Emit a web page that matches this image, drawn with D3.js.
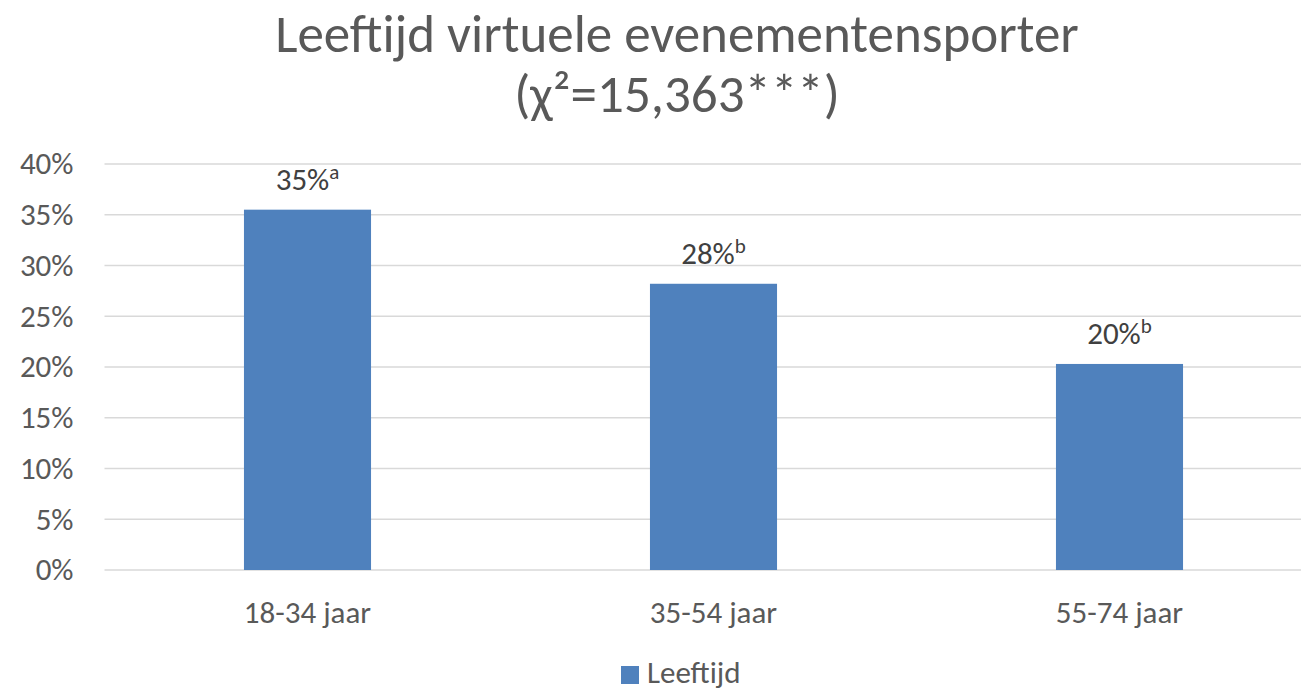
<!DOCTYPE html>
<html>
<head>
<meta charset="utf-8">
<script src="https://cdn.jsdelivr.net/npm/d3@7"></script>
<style>
  body { margin: 0; background: #fff; }
  text { font-family: Carlito, "Open Sans", "Noto Sans", sans-serif; }
</style>
</head>
<body>
<div id="chart"></div>
<script>
// chart data
var categories = ["18-34 jaar", "35-54 jaar", "55-74 jaar"];
var values = [0.355, 0.282, 0.203];
var valueLabels = ["35%", "28%", "20%"];
var sigLetters = ["a", "b", "b"];
var yTicks = [0, 0.05, 0.10, 0.15, 0.20, 0.25, 0.30, 0.35, 0.40];
var seriesName = "Leeftijd";
var titleLines = ["Leeftijd virtuele evenementensporter", "(χ²=15,363***)"];

var W = 1301, H = 690;
var margin = {top: 164, left: 104.5, bottom: 120};
var plotRight = 1322.5;   // the plot runs past the picture edge

var svg = d3.select("#chart").append("svg")
    .attr("width", W)
    .attr("height", H);

var x = d3.scaleBand()
    .domain(categories)
    .range([margin.left, plotRight])
    .paddingInner(0.687)
    .paddingOuter(0.687 / 2);

var y = d3.scaleLinear()
    .domain([0, 0.40])
    .range([570, margin.top]);

// gridlines
svg.append("g")
    .selectAll("line")
    .data(yTicks)
    .enter().append("line")
    .attr("x1", margin.left)
    .attr("x2", plotRight)
    .attr("y1", function(d) { return y(d); })
    .attr("y2", function(d) { return y(d); })
    .attr("stroke", "#d9d9d9")
    .attr("stroke-width", 1.5);

// y axis labels
var yAxis = svg.append("g")
    .attr("class", "y-axis")
    .attr("transform", "translate(" + margin.left + ",0)")
    .call(d3.axisLeft(y).tickValues(yTicks).tickFormat(d3.format(".0%")).tickSize(0).tickPadding(31));
yAxis.select(".domain").remove();
yAxis.selectAll("text")
    .attr("fill", "#595959")
    .style("font-size", "31px");

// bars
svg.append("g")
    .selectAll("rect")
    .data(values)
    .enter().append("rect")
    .attr("x", function(d, i) { return x(categories[i]); })
    .attr("y", function(d) { return y(d); })
    .attr("width", x.bandwidth())
    .attr("height", function(d) { return y(0) - y(d); })
    .attr("fill", "#4f81bd");

// value labels with superscript letters
var lab = svg.append("g")
    .selectAll("text")
    .data(values)
    .enter().append("text")
    .attr("x", function(d, i) { return x(categories[i]) + x.bandwidth() / 2; })
    .attr("y", function(d) { return y(d) - 20; })
    .attr("text-anchor", "middle")
    .attr("fill", "#404040")
    .style("font-size", "31px");
lab.append("tspan")
    .text(function(d, i) { return valueLabels[i]; });
lab.append("tspan")
    .attr("dy", -11)
    .style("font-size", "21px")
    .text(function(d, i) { return sigLetters[i]; });

// x axis labels
var xAxis = svg.append("g")
    .attr("class", "x-axis")
    .attr("transform", "translate(0," + y(0) + ")")
    .call(d3.axisBottom(x).tickSize(0).tickPadding(31));
xAxis.select(".domain").remove();
xAxis.selectAll("text")
    .attr("fill", "#595959")
    .style("font-size", "31px");

// title
svg.append("g")
    .selectAll("text")
    .data(titleLines)
    .enter().append("text")
    .attr("x", 677)
    .attr("y", function(d, i) { return 52 + i * 60; })
    .attr("text-anchor", "middle")
    .attr("fill", "#595959")
    .style("font-size", "53px")
    .text(function(d) { return d; });

// legend
svg.append("rect")
    .attr("x", 621)
    .attr("y", 666)
    .attr("width", 18)
    .attr("height", 18)
    .attr("fill", "#4f81bd");
svg.append("text")
    .attr("x", 647)
    .attr("y", 683)
    .attr("fill", "#595959")
    .style("font-size", "31px")
    .text(seriesName);
</script>
</body>
</html>
